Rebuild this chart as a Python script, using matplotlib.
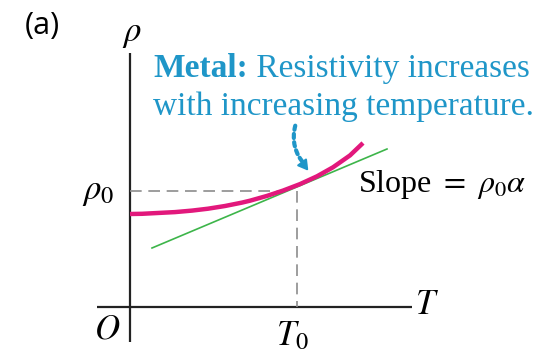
import matplotlib
matplotlib.use("Agg")
import matplotlib.pyplot as plt
from matplotlib.patches import FancyArrowPatch

plt.rcParams['font.family'] = ['Liberation Serif', 'DejaVu Serif']
plt.rcParams['mathtext.fontset'] = 'stix'

# curve and tangent (units: px from the origin)
curve_T = [0, 12, 45, 62, 78, 95, 112, 120, 137, 153, 170, 187, 203, 220, 233]
curve_rho = [93, 93.2, 94.9, 96.4, 98.3, 101.0, 104.4, 106.3, 111.1, 116.4, 122.9, 130.7, 139.7, 151.6, 164.0]
tangent_T = [22, 257]
tangent_rho = [59, 158]
T0 = 167
rho0 = 116

BLUE = '#1f96c8'
MAGENTA = '#e2187c'
GREEN = '#3db54a'

fig = plt.figure(figsize=(5.54, 3.52), dpi=100)
ax = fig.add_axes([0, 0, 1, 1])
ax.set_xlim(-130, 424)
ax.set_ylim(-45, 307)
ax.axis('off')

# axes
ax.plot([0, 0], [-35, 254], color='#222222', lw=1.6, solid_capstyle='butt')
ax.plot([-33, 282], [0, 0], color='#222222', lw=1.6, solid_capstyle='butt')

# dashed guides
ax.plot([0, T0 - 14], [rho0, rho0], color='#8c8c8c', lw=1.2, dashes=(7, 4))
ax.plot([T0, T0], [rho0, 0], color='#8c8c8c', lw=1.2, dashes=(7, 4))

ax.plot(tangent_T, tangent_rho, color=GREEN, lw=1.2)
ax.plot(curve_T, curve_rho, color=MAGENTA, lw=3.2, solid_capstyle='butt')

# labels
ax.text(-88, 281, '(a)', fontsize=22, family='Open Sans', ha='center', va='center')
ax.text(2, 274, r'$\rho$', fontsize=25, ha='center', va='center')
ax.text(-48, rho0 - 1, r'$\rho_0$', fontsize=25, ha='left', va='center')
ax.text(285, 2, r'$T$', fontsize=25, ha='left', va='center')
ax.text(-23, -23, r'$O$', fontsize=25, ha='center', va='center')
ax.text(T0 - 5, -30, r'$T_0$', fontsize=25, ha='center', va='center')
ax.text(228, 115, r'Slope $=$ $\rho_0\alpha$', fontsize=23, ha='left', va='baseline')

# blue annotation
t1 = ax.text(23, 230, 'Metal:', fontsize=24, color=BLUE, weight='bold', ha='left', va='baseline')
fig.canvas.draw()
bb = t1.get_window_extent()
x_end = ax.transData.inverted().transform((bb.x1, bb.y0))[0]
ax.text(x_end, 230, ' Resistivity increases', fontsize=24, color=BLUE, ha='left', va='baseline')
ax.text(23, 192, 'with increasing temperature.', fontsize=24, color=BLUE, ha='left', va='baseline')

shaft = FancyArrowPatch((166, 184), (177, 140), connectionstyle='arc3,rad=0.3',
                        arrowstyle='-', linestyle=(0, (1, 1)), lw=3, color=BLUE)
ax.add_patch(shaft)
ax.annotate('', xy=(180, 134), xytext=(174, 142),
            arrowprops=dict(arrowstyle='-|>,head_length=0.6,head_width=0.35', color=BLUE, lw=1.5))

fig.savefig('out.png', dpi=100)
